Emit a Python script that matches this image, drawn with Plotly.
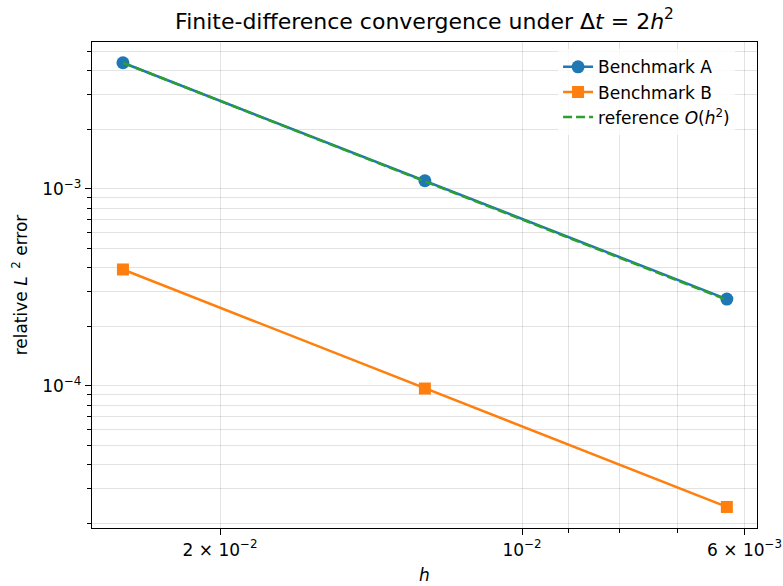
import plotly.graph_objects as go
import numpy as np

h = [0.025, 0.0125, 0.00625]
err_a = [4.37e-3, 1.10e-3, 2.76e-4]
err_b = [3.90e-4, 9.70e-5, 2.43e-5]
ref_o2 = [4.37e-3, 1.0925e-3, 2.731e-4]

x_tickvals = [0.02, 0.01, 0.006]
x_ticktext = ["2 × 10<sup>−2</sup>", "10<sup>−2</sup>", "6 × 10<sup>−3</sup>"]
x_minor = [0.009, 0.008, 0.007]
y_tickvals = [1e-3, 1e-4]
y_ticktext = ["10<sup>−3</sup>", "10<sup>−4</sup>"]
y_minor = [k * 10.0 ** e for e in (-5, -4, -3) for k in range(2, 10)]

C_A = "#1f77b4"
C_B = "#ff7f0e"
C_R = "#2ca02c"

fig = go.Figure()
fig.add_trace(go.Scatter(x=h, y=err_a, mode="lines+markers", name="Benchmark A",
                         legendgroup="a",
                         line=dict(color=C_A, width=2.5),
                         marker=dict(symbol="circle", size=13, color=C_A)))
fig.add_trace(go.Scatter(x=h, y=err_b, mode="lines+markers", name="Benchmark B",
                         legendgroup="b",
                         line=dict(color=C_B, width=2.5),
                         marker=dict(symbol="square", size=12, color=C_B)))
fig.add_trace(go.Scatter(x=h, y=ref_o2, mode="lines",
                         name="reference <i>O</i>(<i>h</i><sup>2</sup>)",
                         legendgroup="r",
                         line=dict(color=C_R, width=2.5, dash="9px,4px")))

grid = "rgba(0,0,0,0.11)"
fig.update_layout(
    width=783, height=586,
    margin=dict(l=92, r=26, t=42, b=58),
    paper_bgcolor="white", plot_bgcolor="white",
    font=dict(family="DejaVu Sans", size=17, color="black"),
    title=dict(text="Finite-difference convergence under Δ<i>t</i> = 2<i>h</i><sup>2</sup>",
               xref="paper", x=0.5, xanchor="center",
               yref="container", y=1 - 21 / 586, yanchor="middle",
               font=dict(size=22)),
    showlegend=True,
    legend=dict(x=0.967, y=0.985, xanchor="right", yanchor="top",
                bgcolor="rgba(255,255,255,0.8)", borderwidth=0,
                tracegroupgap=3, traceorder="normal",
                font=dict(size=17)),
)
fig.update_xaxes(
    type="log", range=[np.log10(0.02684), np.log10(0.005832)],
    tickmode="array", tickvals=x_tickvals, ticktext=x_ticktext,
    ticks="outside", ticklen=6, tickwidth=1.2, tickcolor="black",
    showline=True, linecolor="black", linewidth=1.3, mirror=True,
    showgrid=True, gridcolor=grid, gridwidth=1, zeroline=False,
    automargin=False,
    minor=dict(tickvals=x_minor, ticks="outside", ticklen=3.5, tickcolor="black",
               showgrid=True, gridcolor=grid, gridwidth=1),
    title=dict(text="<i>h</i>", font=dict(size=17), standoff=10),
)
fig.update_yaxes(
    type="log", range=[np.log10(1.90e-5), np.log10(5.57e-3)],
    tickmode="array", tickvals=y_tickvals, ticktext=y_ticktext,
    ticks="outside", ticklen=6, tickwidth=1.2, tickcolor="black",
    showline=True, linecolor="black", linewidth=1.3, mirror=True,
    showgrid=True, gridcolor=grid, gridwidth=1, zeroline=False,
    automargin=False,
    minor=dict(tickvals=y_minor, ticks="outside", ticklen=3.5, tickcolor="black",
               showgrid=True, gridcolor=grid, gridwidth=1),
    title=dict(text="relative <i>L</i><sup>  2</sup> error", font=dict(size=17), standoff=10),
)

fig.write_html("out.html", config={"displayModeBar": False},
               post_script="document.body.style.margin='0px';document.body.style.overflow='hidden';")
